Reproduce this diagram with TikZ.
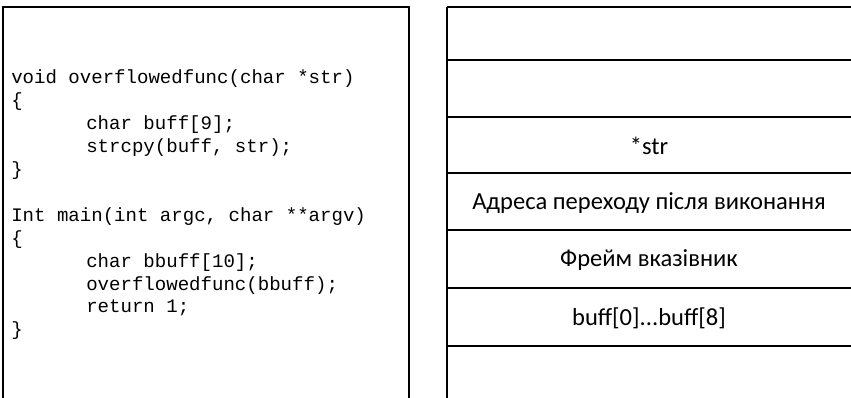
\documentclass[tikz,border=0pt]{standalone}
\usepackage{fontspec}
\setmainfont{Carlito}
\setmonofont{Liberation Mono}

\tikzset{
  codeline/.style={anchor=base west, inner sep=0pt, font=\ttfamily\fontsize{14.3}{17}\selectfont},
  cell/.style={inner sep=0pt, font=\fontsize{18.4}{22}\selectfont},
  frame/.style={line width=1pt, black}
}

\begin{document}
\begin{tikzpicture}[x=0.75pt,y=-0.75pt]
  \useasboundingbox (0,0) rectangle (851,398);

  % source code box, open at the bottom
  \draw[frame] (3,398) -- (3,7) -- (409,7) -- (409,398);
  \node[codeline] at (11,84) (l1) {void overflowedfunc(char *str)};
  \node[codeline] at (11,107) (l2) {\{};
  \node[codeline] at (86,130) (l3) {char buff[9];};
  \node[codeline] at (86,153) (l4) {strcpy(buff, str);};
  \node[codeline] at (11,176) (l5) {\}};
  \node[codeline] at (11,222) (l6) {Int main(int argc, char **argv)};
  \node[codeline] at (11,245) (l7) {\{};
  \node[codeline] at (86,268) (l8) {char bbuff[10];};
  \node[codeline] at (86,291) (l9) {overflowedfunc(bbuff);};
  \node[codeline] at (86,313) (l10) {return 1;};
  \node[codeline] at (11,336) (l11) {\}};

  % stack frame
  \draw[frame] (447,398) -- (447,7);
  \foreach \y in {7,60,117,173,230,288,346}
    \draw[frame] (447,\y) -- (860,\y);
  \node[cell] at (649,146) (str) {*str};
  \node[cell] at (649,203) (ret) {Адреса переходу після виконання};
  \node[cell] at (649,260) (fp) {Фрейм вказівник};
  \node[cell] at (649,318) (buff) {buff[0]...buff[8]};

\end{tikzpicture}
\end{document}
